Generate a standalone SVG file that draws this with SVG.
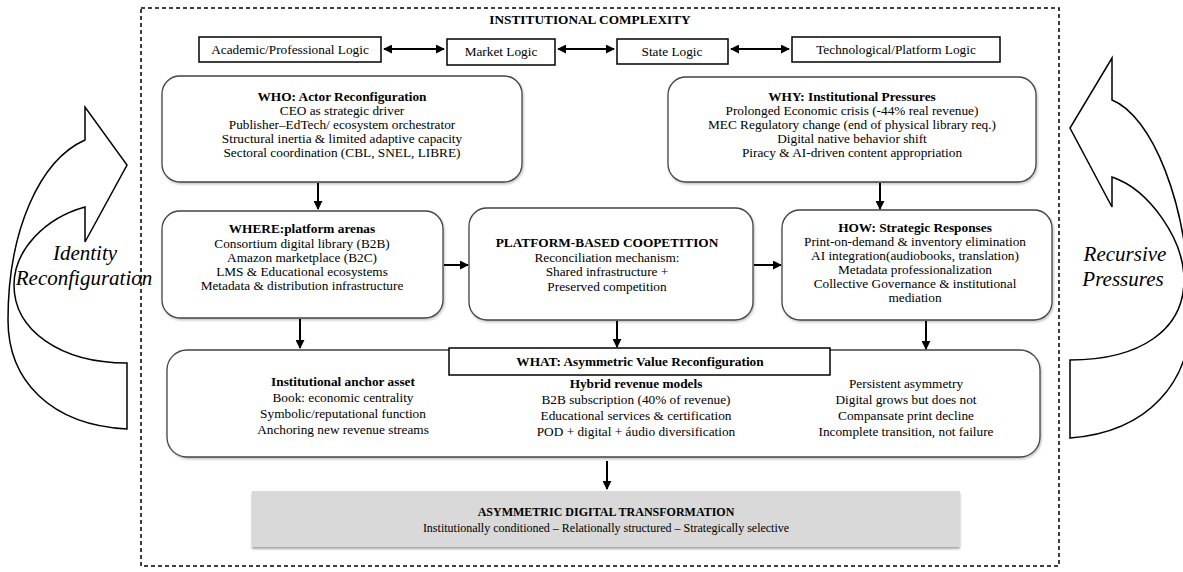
<svg xmlns="http://www.w3.org/2000/svg" width="1183" height="572" viewBox="0 0 1183 572">
<defs>
<style>
text{font-family:"Liberation Serif","Times New Roman",serif;fill:#000;}
.t{font-size:13.3px;text-anchor:middle;}
.b{font-weight:bold;}
.it{font-size:21px;font-style:italic;text-anchor:middle;}
.sq{fill:#fff;stroke:#000;stroke-width:1.5;}
.rb{fill:#fff;stroke:#444;stroke-width:1.3;filter:url(#sh);}
.cn{stroke:#000;stroke-width:2;fill:none;}
.curve{fill:#fff;stroke:#000;stroke-width:1.5;stroke-linejoin:miter;}
</style>
<filter id="sh" x="-5%" y="-5%" width="110%" height="115%">
<feDropShadow dx="1" dy="1.5" stdDeviation="1.2" flood-color="#000" flood-opacity="0.25"/>
</filter>
<filter id="sh2" x="-5%" y="-10%" width="110%" height="130%">
<feDropShadow dx="0" dy="2" stdDeviation="1.2" flood-color="#000" flood-opacity="0.35"/>
</filter>
<marker id="ah" viewBox="0 0 10 10" refX="9" refY="5" markerWidth="9" markerHeight="9" markerUnits="userSpaceOnUse" orient="auto-start-reverse">
<path d="M0,0 L10,5 L0,10 Z" fill="#000"/>
</marker>
</defs>

<rect id="frame" x="141" y="8" width="918" height="558" fill="none" stroke="#000" stroke-width="1.5" stroke-dasharray="4 3"/>
<text class="t b" x="590" y="24">INSTITUTIONAL COMPLEXITY</text>

<g id="curved-left">
<path class="curve" d="M127,429 C50,425 8,380 8,320 C8,230 40,160 85,140 L85,107 L127,165 L85,242 L85,207 C45,218 14,250 14,285 C14,330 60,363 127,363 Z"/>
<text class="it" x="85" y="260">Identity</text>
<text class="it" x="84" y="285">Reconfiguration</text>
</g>
<g id="curved-right">
<path class="curve" d="M1070,438 C1150,432 1190,380 1190,320 C1190,200 1150,115 1112,100 L1112,58 L1070,128 L1112,207 L1112,177 C1150,190 1184,240 1184,280 C1184,330 1140,360 1070,360 Z"/>
<text class="it" x="1125" y="261">Recursive</text>
<text class="it" x="1123" y="286">Pressures</text>
</g>

<g id="logic-academic"><rect class="sq" x="199" y="37" width="182" height="25"/><text class="t" x="290" y="54">Academic/Professional Logic</text></g>
<g id="logic-market"><rect class="sq" x="447" y="39" width="108" height="26"/><text class="t" x="501" y="56">Market Logic</text></g>
<g id="logic-state"><rect class="sq" x="617" y="39" width="111" height="25"/><text class="t" x="672" y="56">State Logic</text></g>
<g id="logic-tech"><rect class="sq" x="792" y="37" width="208" height="25"/><text class="t" x="896" y="54">Technological/Platform Logic</text></g>

<g id="who">
<rect class="rb" x="162" y="76" width="360" height="106" rx="18"/>
<text class="t b" x="342" y="101">WHO: Actor Reconfiguration</text>
<text class="t" x="342" y="115">CEO as strategic driver</text>
<text class="t" x="342" y="129">Publisher–EdTech/ ecosystem orchestrator</text>
<text class="t" x="342" y="143">Structural inertia &amp; limited adaptive capacity</text>
<text class="t" x="342" y="157">Sectoral coordination (CBL, SNEL, LIBRE)</text>
</g>

<g id="why">
<rect class="rb" x="668" y="77" width="368" height="105" rx="18"/>
<text class="t b" x="852" y="101">WHY: Institutional Pressures</text>
<text class="t" x="852" y="115">Prolonged Economic crisis (-44% real revenue)</text>
<text class="t" x="852" y="129">MEC Regulatory change (end of physical library req.)</text>
<text class="t" x="852" y="143">Digital native behavior shift</text>
<text class="t" x="852" y="157">Piracy &amp; AI-driven content appropriation</text>
</g>

<g id="where">
<rect class="rb" x="162" y="211" width="281" height="107" rx="18"/>
<text class="t b" x="302" y="233">WHERE:platform arenas</text>
<text class="t" x="302" y="248">Consortium digital library (B2B)</text>
<text class="t" x="302" y="262">Amazon marketplace (B2C)</text>
<text class="t" x="302" y="276">LMS &amp; Educational ecosystems</text>
<text class="t" x="302" y="290">Metadata &amp; distribution infrastructure</text>
</g>

<g id="platform">
<rect class="rb" x="469" y="208" width="284" height="112" rx="18"/>
<text class="t b" x="607" y="247">PLATFORM-BASED COOPETITION</text>
<text class="t" x="607" y="262">Reconciliation mechanism:</text>
<text class="t" x="607" y="276">Shared infrastructure +</text>
<text class="t" x="607" y="291">Preserved competition</text>
</g>

<g id="how">
<rect class="rb" x="782" y="210" width="270" height="110" rx="18"/>
<text class="t b" x="915" y="232">HOW: Strategic Responses</text>
<text class="t" x="915" y="246">Print-on-demand &amp; inventory elimination</text>
<text class="t" x="915" y="260">AI integration(audiobooks, translation)</text>
<text class="t" x="915" y="274">Metadata professionalization</text>
<text class="t" x="915" y="288">Collective Governance &amp; institutional</text>
<text class="t" x="915" y="302">mediation</text>
</g>

<g id="what">
<rect class="rb" x="167" y="350" width="873" height="107" rx="20"/>
<rect class="sq" x="449" y="348" width="381" height="27" stroke-width="1.3"/>
<text class="t b" x="640" y="366">WHAT: Asymmetric Value Reconfiguration</text>
<text class="t b" x="343" y="386">Institutional anchor asset</text>
<text class="t" x="343" y="402">Book: economic centrality</text>
<text class="t" x="343" y="418">Symbolic/reputational function</text>
<text class="t" x="343" y="434">Anchoring new revenue streams</text>
<text class="t b" x="636" y="388">Hybrid revenue models</text>
<text class="t" x="636" y="404">B2B subscription (40% of revenue)</text>
<text class="t" x="636" y="420">Educational services &amp; certification</text>
<text class="t" x="636" y="436">POD + digital + áudio diversification</text>
<text class="t" x="906" y="388">Persistent asymmetry</text>
<text class="t" x="906" y="404">Digital grows but does not</text>
<text class="t" x="906" y="420">Compansate print decline</text>
<text class="t" x="906" y="436">Incomplete transition, not failure</text>
</g>

<g id="outcome">
<rect x="252" y="491" width="708" height="56" fill="#d9d9d9" filter="url(#sh2)"/>
<text class="b" x="606" y="516" font-size="12" text-anchor="middle">ASYMMETRIC DIGITAL TRANSFORMATION</text>
<text x="606" y="532" font-size="12" text-anchor="middle">Institutionally conditioned – Relationally structured – Strategically selective</text>
</g>

<g id="connectors">
<line class="cn" x1="384" y1="49" x2="444" y2="49" marker-start="url(#ah)" marker-end="url(#ah)"/>
<line class="cn" x1="558" y1="49" x2="614" y2="49" marker-start="url(#ah)" marker-end="url(#ah)"/>
<line class="cn" x1="731" y1="49" x2="789" y2="49" marker-start="url(#ah)" marker-end="url(#ah)"/>
<line class="cn" x1="318" y1="183" x2="318" y2="209" marker-end="url(#ah)"/>
<line class="cn" x1="880" y1="183" x2="880" y2="209" marker-end="url(#ah)"/>
<line class="cn" x1="444" y1="265" x2="468" y2="265" marker-end="url(#ah)"/>
<line class="cn" x1="754" y1="265" x2="781" y2="265" marker-end="url(#ah)"/>
<line class="cn" x1="300" y1="319" x2="300" y2="348" marker-end="url(#ah)"/>
<line class="cn" x1="617" y1="321" x2="617" y2="347" marker-end="url(#ah)"/>
<line class="cn" x1="926" y1="321" x2="926" y2="349" marker-end="url(#ah)"/>
<line class="cn" x1="607" y1="461" x2="607" y2="489" marker-end="url(#ah)"/>
</g>
</svg>
